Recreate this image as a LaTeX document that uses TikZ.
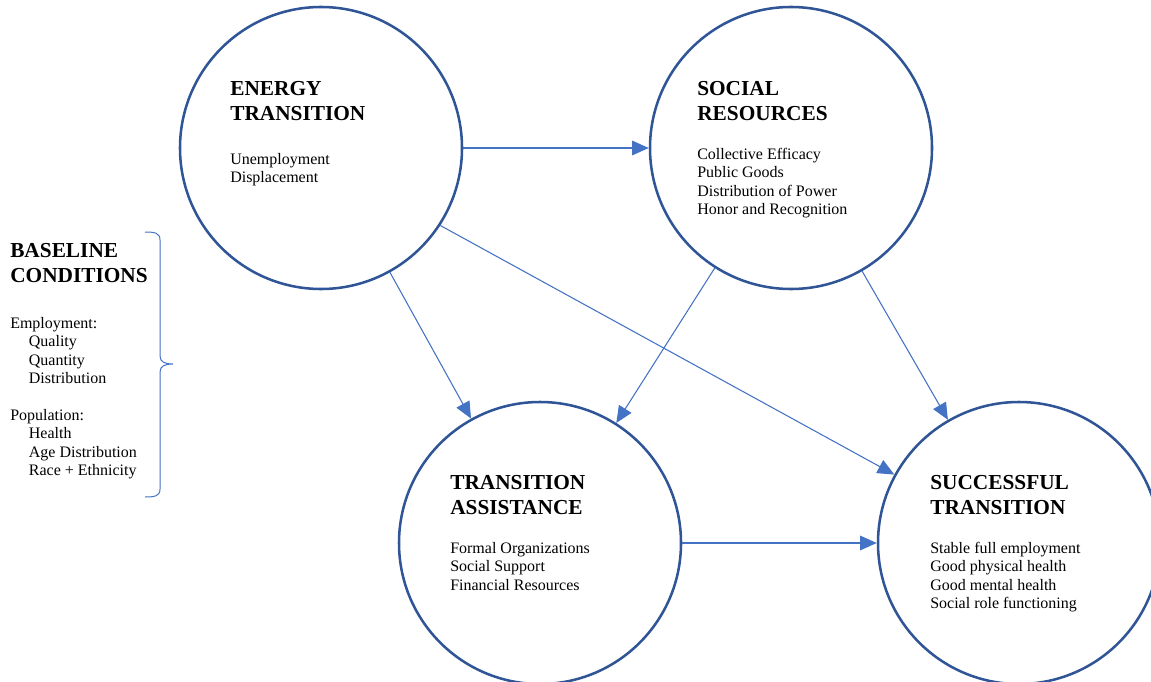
\documentclass[tikz,border=0pt]{standalone}
\usepackage{fontspec}
\setmainfont{Liberation Serif}
\usetikzlibrary{arrows.meta}

\begin{document}
\begin{tikzpicture}[x=0.75pt,y=0.75pt,yscale=-1,xscale=1,
  ring/.style={circle, draw, color={rgb, 255:red, 47; green, 85; blue, 151}, line width=1.9pt, minimum size=211.5pt, inner sep=0pt},
  link/.style={draw, color={rgb, 255:red, 68; green, 114; blue, 196}, line width=0.8pt, -{Triangle[length=12.5pt,width=11pt]}},
  head/.style={anchor=north west, inner sep=0pt, align=left, font=\fontsize{16}{18.75}\selectfont\bfseries},
  items/.style={anchor=north west, inner sep=0pt, align=left, font=\fontsize{12}{13.8}\selectfont}]
\clip (0,0) rectangle (1151,681);

%Shape: Circle
\draw (321,148) node [ring] (energy) {};
%Shape: Circle
\draw (791,148) node [ring] (social) {};
%Shape: Circle
\draw (540,543) node [ring] (assist) {};
%Shape: Circle
\draw (1019,543) node [ring] (success) {};

%Straight Lines
\draw [link] (energy) -- (social);
\draw [link] (energy) -- (assist);
\draw [link] (energy.-33) -- (success);
\draw [link] (social) -- (assist);
\draw [link] (social) -- (success);
\draw [link] (assist) -- (success);

%Shape: Brace
\draw [color={rgb, 255:red, 68; green, 114; blue, 196}, line width=0.75pt] (145,232) .. controls (155,232) and (160,233) .. (160,240) -- (160,356) .. controls (160,362) and (165,364) .. (173,364) .. controls (165,364) and (160,366) .. (160,372) -- (160,489) .. controls (160,496) and (155,497) .. (145,497) ;

% Text Node
\draw (230,81) node [head] (energyhead) {ENERGY\\TRANSITION};
% Text Node
\draw (230,153) node [items] (energylist) {Unemployment\\Displacement};
% Text Node
\draw (697,81) node [head] (socialhead) {SOCIAL\\RESOURCES};
% Text Node
\draw (697,148) node [items] (sociallist) {Collective Efficacy\\Public Goods\\Distribution of Power\\Honor and Recognition};
% Text Node
\draw (450,475) node [head] (assisthead) {TRANSITION\\ASSISTANCE};
% Text Node
\draw (450,542) node [items] (assistlist) {Formal Organizations\\Social Support\\Financial Resources};
% Text Node
\draw (930,475) node [head] (successhead) {SUCCESSFUL\\TRANSITION};
% Text Node
\draw (930,542) node [items] (successlist) {Stable full employment\\Good physical health\\Good mental health\\Social role functioning};
% Text Node
\draw (10,243) node [head] (baselinehead) {BASELINE\\CONDITIONS};
% Text Node
\draw (10,317) node [items] (baselinelist) {Employment:\\\hspace*{14pt}Quality\\\hspace*{14pt}Quantity\\\hspace*{14pt}Distribution\\[13.8pt]Population:\\\hspace*{14pt}Health\\\hspace*{14pt}Age Distribution\\\hspace*{14pt}Race + Ethnicity};

\end{tikzpicture}
\end{document}
